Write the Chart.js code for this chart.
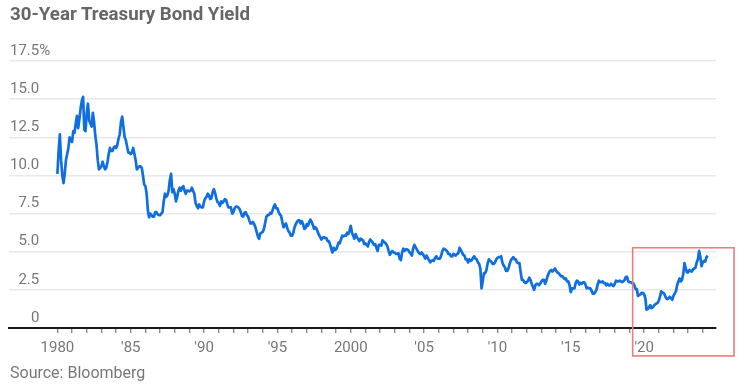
<!DOCTYPE html>
<html>
<head>
<meta charset="utf-8">
<script src="https://cdn.jsdelivr.net/npm/chart.js@4/dist/chart.umd.min.js"></script>
<style>
  html, body { margin: 0; padding: 0; background: #fff; }
  #wrap { position: relative; width: 745px; height: 389px; overflow: hidden; }
  #title { position: absolute; left: 10px; top: 3px; font: bold 18.7px Roboto, sans-serif; color: #666; white-space: nowrap; }
  #source { position: absolute; left: 10px; top: 363px; font: 16px Roboto, sans-serif; color: #777; white-space: nowrap; }
  canvas { position: absolute; left: 0; top: 0; }
</style>
</head>
<body>
<div id="wrap">
  <canvas id="c" width="745" height="389"></canvas>
  <div id="title">30-Year Treasury Bond Yield</div>
  <div id="source">Source: Bloomberg</div>
</div>
<script>
// Monthly 30-year Treasury yields (%), starting January 1980
const startYear = 1980;
const yields1980s = [
  10.1, 11.6, 12.7, 11.0, 10.0, 9.5, 10.1, 11.0, 11.4, 11.8, 12.5, 12.3,
  12.2, 12.9, 12.8, 13.4, 13.9, 13.1, 13.7, 14.4, 14.9, 15.15, 13.0, 12.9,
  14.1, 14.7, 13.6, 13.4, 13.2, 14.1, 13.5, 12.6, 12.0, 11.0, 10.4, 10.5,
  10.6, 10.9, 10.6, 10.4, 10.5, 10.9, 11.4, 11.8, 11.6, 11.6, 11.8, 11.9,
  11.8, 12.0, 12.4, 12.7, 13.5, 13.85, 13.2, 12.5, 12.3, 11.9, 11.5, 11.5,
  11.4, 11.5, 11.8, 11.4, 11.0, 10.4, 10.5, 10.6, 10.6, 10.5, 10.0, 9.4,
  9.3, 8.8, 7.7, 7.25, 7.5, 7.4, 7.3, 7.3, 7.6, 7.6, 7.45, 7.4,
  7.4, 7.5, 7.6, 8.3, 8.8, 8.6, 8.7, 9.0, 9.7, 10.1, 8.9, 9.1,
  8.8, 8.3, 8.6, 9.0, 9.2, 9.0, 9.2, 9.3, 9.0, 8.8, 9.0, 9.0,
  8.95, 9.0, 9.2, 9.0, 8.8, 8.2, 8.0, 7.85, 8.1, 7.95, 7.9, 7.9
];
const yields1990s = [
  8.3, 8.5, 8.6, 8.8, 8.7, 8.45, 8.5, 8.9, 9.1, 8.85, 8.5, 8.25,
  8.2, 8.0, 8.3, 8.2, 8.3, 8.45, 8.4, 8.1, 7.9, 7.9, 7.9, 7.5,
  7.6, 7.85, 7.95, 7.95, 7.9, 7.8, 7.6, 7.35, 7.3, 7.55, 7.6, 7.4,
  7.3, 7.05, 6.85, 6.85, 6.95, 6.8, 6.6, 6.3, 6.0, 5.85, 6.2, 6.25,
  6.3, 6.5, 6.9, 7.3, 7.4, 7.4, 7.55, 7.5, 7.7, 7.95, 8.1, 7.85,
  7.85, 7.6, 7.45, 7.35, 6.95, 6.6, 6.75, 6.85, 6.55, 6.35, 6.25, 6.05,
  6.05, 6.25, 6.6, 6.8, 6.95, 7.05, 7.05, 6.85, 7.0, 6.8, 6.5, 6.55,
  6.8, 6.7, 6.95, 7.1, 6.95, 6.75, 6.5, 6.6, 6.5, 6.3, 6.1, 5.95,
  5.8, 5.9, 5.95, 5.9, 5.9, 5.7, 5.7, 5.5, 5.2, 4.95, 5.25, 5.1,
  5.15, 5.35, 5.6, 5.55, 5.8, 6.05, 6.0, 6.05, 6.05, 6.25, 6.15, 6.4
];
const yields2000s = [
  6.7, 6.25, 6.05, 5.85, 6.15, 5.95, 5.85, 5.7, 5.85, 5.8, 5.75, 5.5,
  5.55, 5.45, 5.35, 5.65, 5.8, 5.7, 5.6, 5.45, 5.5, 5.25, 5.05, 5.45,
  5.45, 5.4, 5.75, 5.65, 5.6, 5.5, 5.35, 5.05, 4.8, 4.95, 5.05, 4.95,
  4.95, 4.85, 4.85, 4.9, 4.55, 4.45, 4.95, 5.2, 5.05, 5.15, 5.15, 5.1,
  4.95, 4.9, 4.75, 5.2, 5.45, 5.3, 5.15, 5.0, 4.9, 4.85, 4.95, 4.85,
  4.7, 4.55, 4.75, 4.6, 4.45, 4.3, 4.4, 4.45, 4.4, 4.6, 4.7, 4.55,
  4.55, 4.55, 4.75, 5.05, 5.2, 5.15, 5.1, 5.0, 4.85, 4.85, 4.7, 4.7,
  4.85, 4.8, 4.75, 4.85, 4.9, 5.25, 5.1, 4.95, 4.8, 4.75, 4.5, 4.5,
  4.3, 4.5, 4.4, 4.45, 4.6, 4.7, 4.55, 4.5, 4.3, 4.2, 3.9, 2.6,
  3.1, 3.6, 3.6, 3.8, 4.25, 4.5, 4.4, 4.35, 4.2, 4.2, 4.3, 4.5
];
const yields2010s = [
  4.6, 4.65, 4.65, 4.7, 4.3, 4.1, 4.0, 3.75, 3.75, 3.9, 4.2, 4.45,
  4.55, 4.65, 4.5, 4.5, 4.3, 4.25, 4.25, 3.65, 3.15, 3.15, 3.0, 2.95,
  3.0, 3.1, 3.3, 3.15, 2.9, 2.7, 2.5, 2.8, 2.9, 2.9, 2.8, 2.9,
  3.05, 3.15, 3.15, 2.9, 3.1, 3.4, 3.6, 3.75, 3.8, 3.7, 3.8, 3.9,
  3.75, 3.65, 3.6, 3.5, 3.4, 3.4, 3.3, 3.2, 3.25, 3.05, 3.05, 2.8,
  2.35, 2.6, 2.6, 2.6, 2.95, 3.1, 3.05, 2.85, 2.95, 2.9, 3.0, 3.0,
  2.85, 2.6, 2.65, 2.6, 2.6, 2.45, 2.25, 2.25, 2.35, 2.5, 2.85, 3.1,
  3.0, 3.0, 3.05, 2.95, 2.95, 2.8, 2.9, 2.8, 2.8, 2.9, 2.8, 2.75,
  2.9, 3.1, 3.05, 3.05, 3.1, 3.05, 3.0, 3.05, 3.15, 3.35, 3.35, 3.05,
  3.0, 3.0, 2.95, 2.95, 2.8, 2.55, 2.55, 2.1, 2.15, 2.2, 2.3, 2.3
];
const yields2020s = [
  2.2, 1.95, 1.2, 1.25, 1.35, 1.5, 1.3, 1.35, 1.45, 1.55, 1.6, 1.65,
  1.8, 2.05, 2.4, 2.3, 2.3, 2.15, 1.95, 1.9, 1.95, 2.05, 1.95, 1.85,
  2.1, 2.25, 2.4, 2.8, 3.05, 3.25, 3.05, 3.15, 3.55, 4.25, 3.95, 3.65,
  3.65, 3.8, 3.75, 3.7, 3.85, 3.9, 3.95, 4.3, 4.5, 5.05, 4.65, 4.05,
  4.3, 4.4, 4.35, 4.65, 4.74
];

// Axis ticks and labels
const xTickYears = [];
for (let yr = 1980; yr <= 2024; yr++) xTickYears.push(yr);
const xLabelYears = [1980, 1985, 1990, 1995, 2000, 2005, 2010, 2015, 2020];
const xLabelTexts = ['1980', "'85", "'90", "'95", '2000', "'05", "'10", "'15", "'20"];
const yTickValues = [0, 2.5, 5, 7.5, 10, 12.5, 15, 17.5];
const yTickLabels = ['0', '2.5', '5.0', '7.5', '10.0', '12.5', '15.0', '17.5%'];

// Highlighted region (in data units)
const highlightX = [2019.22, 2026.13];
const highlightY = [-1.83, 5.26];

const allYields = [].concat(yields1980s, yields1990s, yields2000s, yields2010s, yields2020s);
const points = allYields.map((v, i) => ({ x: startYear + i / 12, y: v }));

function alignLabel(t) {
  const num = t.replace('%', '');
  if (num.indexOf('.') < 0) return '\u2007\u2007\u2008' + t;
  const intDigits = num.split('.')[0].length;
  return '\u2007'.repeat(Math.max(0, 2 - intDigits)) + t;
}

const highlightPlugin = {
  id: 'highlight',
  afterDraw(chart) {
    const xs = chart.scales.x, ys = chart.scales.y, ctx = chart.ctx;
    const x1 = xs.getPixelForValue(highlightX[0]), x2 = xs.getPixelForValue(highlightX[1]);
    const y1 = ys.getPixelForValue(highlightY[1]), y2 = ys.getPixelForValue(highlightY[0]);
    ctx.save();
    ctx.strokeStyle = '#ea7d7d';
    ctx.lineWidth = 1.6;
    ctx.strokeRect(x1, y1, x2 - x1, y2 - y1);
    ctx.restore();
  }
};

Chart.defaults.font.family = 'Roboto, sans-serif';
new Chart(document.getElementById('c'), {
  type: 'line',
  data: {
    datasets: [{
      data: points,
      borderColor: '#0f6fe0',
      borderWidth: 2.7,
      pointRadius: 0,
      tension: 0,
      borderJoinStyle: 'round',
      fill: false
    }]
  },
  options: {
    responsive: false,
    animation: false,
    devicePixelRatio: 1,
    layout: { padding: { left: 9, right: 29, top: 61, bottom: 0 } },
    plugins: { legend: { display: false }, tooltip: { enabled: false }, title: { display: false } },
    scales: {
      x: {
        type: 'linear',
        min: 1976.7,
        max: 2024.9,
        afterFit(scale) { scale.height = 61; },
        afterBuildTicks(scale) { scale.ticks = xTickYears.map(v => ({ value: v })); },
        border: { display: true, color: '#1a1a1a', width: 2 },
        grid: { drawOnChartArea: false, drawTicks: true, tickLength: 5, color: '#8a8a8a', lineWidth: 1.4 },
        ticks: {
          autoSkip: false,
          maxRotation: 0,
          padding: 6,
          color: '#777',
          font: { size: 15 },
          callback(v) { const i = xLabelYears.indexOf(v); return i >= 0 ? xLabelTexts[i] : ''; }
        }
      },
      y: {
        min: 0,
        max: 17.5,
        afterFit(scale) { scale.width = 0; },
        afterBuildTicks(scale) { scale.ticks = yTickValues.map(v => ({ value: v })); },
        border: { display: false },
        grid: { drawTicks: false, color: '#e8e8e8', lineWidth: 1.5 },
        ticks: {
          mirror: true,
          crossAlign: 'near',
          padding: 1,
          labelOffset: -10,
          color: '#777',
          font: { size: 15 },
          callback(v) { const i = yTickValues.indexOf(v); return i >= 0 ? alignLabel(yTickLabels[i]) : ''; }
        }
      }
    }
  },
  plugins: [highlightPlugin]
});
</script>
</body>
</html>
